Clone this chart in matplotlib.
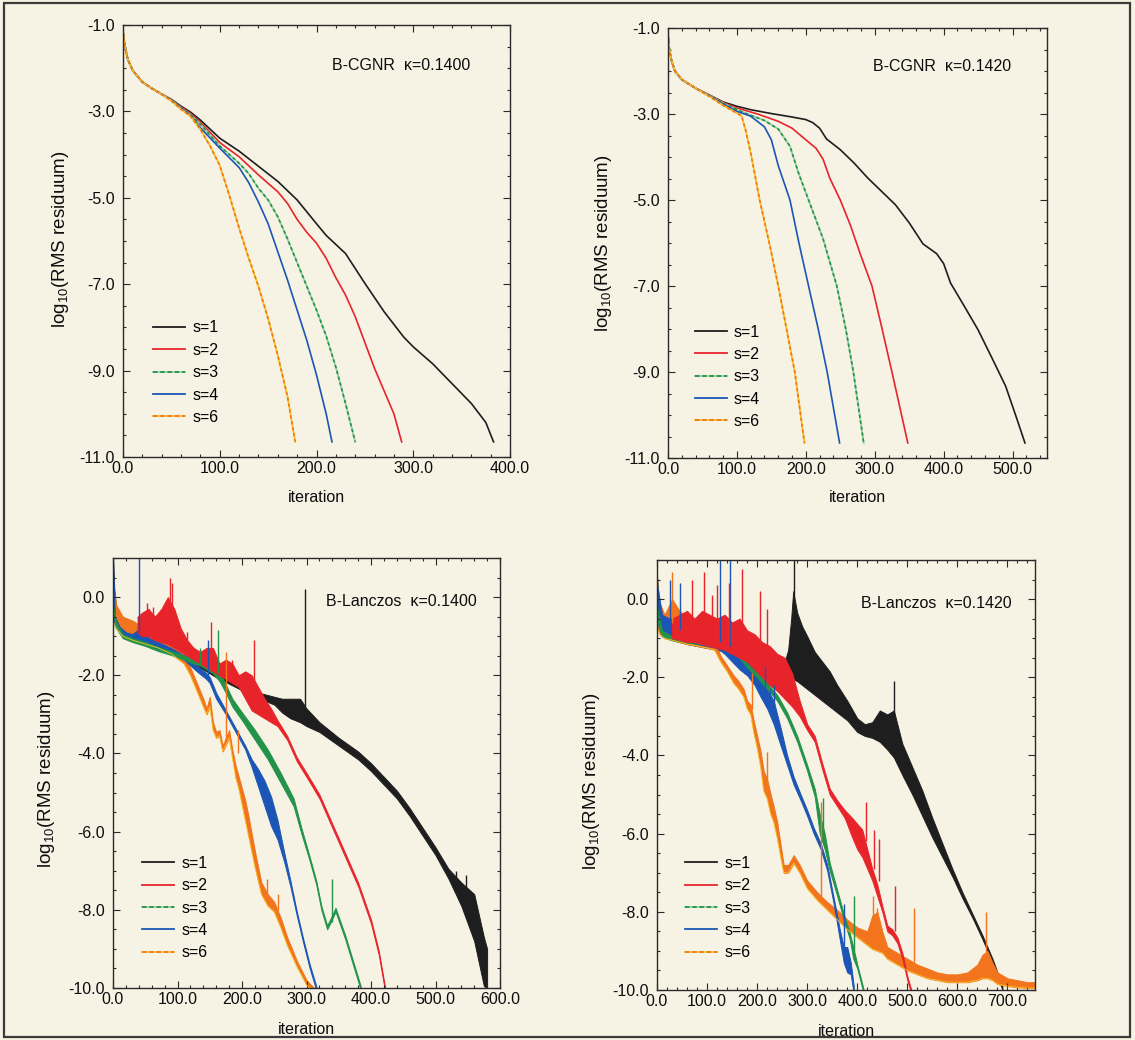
import matplotlib
matplotlib.use('Agg')
import matplotlib.pyplot as plt
from matplotlib.lines import Line2D
from matplotlib.patches import Rectangle
from matplotlib.ticker import MultipleLocator, FormatStrFormatter

plt.rcParams['font.family'] = ['Liberation Sans', 'DejaVu Sans']
plt.rcParams['mathtext.fontset'] = 'custom'
plt.rcParams['mathtext.rm'] = 'Liberation Sans'
plt.rcParams['mathtext.it'] = 'Liberation Sans:italic'
plt.rcParams['mathtext.bf'] = 'Liberation Sans:bold'

# ---------------- B-CGNR, kappa = 0.1400 ----------------
cg1400_it_s1 = [0, 2, 5, 10, 20, 30, 40, 50, 60, 70, 80, 100, 120, 140, 160, 180, 200, 210, 230, 250, 270, 290, 300, 320, 340, 360, 375, 383]
cg1400_r_s1 = [-1.15, -1.5, -1.8, -2.05, -2.32, -2.47, -2.6, -2.72, -2.88, -3.02, -3.2, -3.62, -3.92, -4.27, -4.62, -5.05, -5.6, -5.87, -6.29, -6.98, -7.64, -8.22, -8.45, -8.84, -9.3, -9.76, -10.2, -10.65]
cg1400_it_s2 = [0, 2, 5, 10, 20, 30, 40, 50, 60, 70, 80, 100, 120, 140, 160, 170, 180, 190, 200, 210, 220, 230, 240, 260, 280, 288]
cg1400_r_s2 = [-1.15, -1.5, -1.8, -2.05, -2.32, -2.47, -2.6, -2.73, -2.9, -3.05, -3.25, -3.72, -4.05, -4.47, -4.86, -5.13, -5.5, -5.8, -6.05, -6.4, -6.85, -7.25, -7.75, -8.95, -10.0, -10.65]
cg1400_it_s3 = [0, 2, 5, 10, 20, 30, 40, 50, 60, 70, 80, 100, 120, 130, 140, 150, 160, 170, 180, 190, 200, 210, 220, 230, 240]
cg1400_r_s3 = [-1.15, -1.5, -1.8, -2.05, -2.32, -2.47, -2.6, -2.74, -2.92, -3.08, -3.3, -3.8, -4.2, -4.44, -4.78, -5.05, -5.44, -5.95, -6.5, -7.05, -7.6, -8.2, -8.92, -9.76, -10.65]
cg1400_it_s4 = [0, 2, 5, 10, 20, 30, 40, 50, 60, 70, 80, 100, 120, 130, 140, 150, 160, 170, 180, 190, 200, 210, 216]
cg1400_r_s4 = [-1.15, -1.5, -1.8, -2.05, -2.32, -2.47, -2.6, -2.75, -2.93, -3.1, -3.38, -3.85, -4.3, -4.65, -5.1, -5.6, -6.25, -6.9, -7.6, -8.3, -9.1, -10.0, -10.65]
cg1400_it_s6 = [0, 2, 5, 10, 20, 30, 40, 50, 60, 70, 80, 90, 100, 110, 120, 130, 140, 150, 160, 170, 178]
cg1400_r_s6 = [-1.15, -1.5, -1.8, -2.05, -2.32, -2.47, -2.6, -2.76, -2.95, -3.12, -3.42, -3.8, -4.25, -4.95, -5.7, -6.4, -7.05, -7.8, -8.65, -9.6, -10.65]

# ---------------- B-CGNR, kappa = 0.1420 ----------------
cg1420_it_s1 = [0, 2, 5, 10, 20, 40, 60, 80, 100, 120, 150, 180, 200, 210, 220, 230, 250, 270, 290, 310, 330, 350, 370, 390, 400, 410, 430, 450, 470, 490, 505, 518]
cg1420_r_s1 = [-1.15, -1.5, -1.75, -2.0, -2.2, -2.4, -2.56, -2.72, -2.82, -2.9, -2.99, -3.07, -3.13, -3.2, -3.33, -3.58, -3.83, -4.14, -4.49, -4.8, -5.11, -5.53, -6.02, -6.25, -6.48, -6.93, -7.47, -8.02, -8.67, -9.33, -10.03, -10.65]
cg1420_it_s2 = [0, 2, 5, 10, 20, 40, 60, 80, 100, 130, 160, 180, 200, 215, 225, 235, 250, 265, 280, 296, 310, 325, 348]
cg1420_r_s2 = [-1.15, -1.5, -1.75, -2.0, -2.2, -2.4, -2.56, -2.73, -2.86, -3.0, -3.17, -3.33, -3.6, -3.8, -4.05, -4.5, -5.0, -5.6, -6.3, -7.0, -7.95, -9.0, -10.65]
cg1420_it_s3 = [0, 2, 5, 10, 20, 40, 60, 80, 100, 115, 140, 160, 177, 190, 204, 225, 245, 258, 269, 284]
cg1420_r_s3 = [-1.15, -1.5, -1.75, -2.0, -2.2, -2.4, -2.57, -2.75, -2.9, -3.0, -3.15, -3.35, -3.75, -4.4, -5.0, -5.9, -7.0, -8.0, -9.0, -10.65]
cg1420_it_s4 = [0, 2, 5, 10, 20, 40, 60, 80, 100, 120, 140, 150, 160, 177, 190, 204, 218, 231, 249]
cg1420_r_s4 = [-1.15, -1.5, -1.75, -2.0, -2.2, -2.4, -2.58, -2.77, -2.94, -3.05, -3.3, -3.6, -4.2, -5.0, -6.0, -7.0, -8.0, -9.0, -10.65]
cg1420_it_s6 = [0, 2, 5, 10, 20, 40, 60, 80, 100, 107, 113, 120, 133, 147, 160, 172, 184, 198]
cg1420_r_s6 = [-1.15, -1.5, -1.75, -2.0, -2.2, -2.4, -2.59, -2.8, -2.98, -3.05, -3.4, -3.9, -5.0, -6.0, -7.0, -8.0, -9.0, -10.65]

# ---------------- B-Lanczos, kappa = 0.1400 (band: lower / upper envelope) ----------------
lz1400_it_s1 = [0, 2, 5, 10, 20, 40, 70, 100, 130, 160, 190, 220, 250, 262, 275, 290, 300, 320, 350, 380, 400, 420, 440, 460, 480, 500, 520, 540, 560, 575, 580]
lz1400_hi_s1 = [1.0, 0.2, -0.3, -0.6, -0.85, -1.0, -1.2, -1.4, -1.65, -1.95, -2.2, -2.42, -2.55, -2.6, -2.6, -2.6, -2.85, -3.2, -3.6, -3.95, -4.25, -4.6, -4.95, -5.4, -5.9, -6.4, -6.95, -7.3, -7.6, -8.7, -9.0]
lz1400_lo_s1 = [-0.2, -0.5, -0.7, -0.85, -0.95, -1.1, -1.3, -1.5, -1.75, -2.05, -2.3, -2.55, -2.75, -2.95, -3.1, -3.2, -3.3, -3.45, -3.8, -4.15, -4.45, -4.8, -5.15, -5.6, -6.1, -6.6, -7.2, -7.9, -8.8, -9.95, -10.0]
lz1400_spikes_s1 = [(297, -2.8, 0.2), (532, -7.4, -7.0), (548, -7.7, -7.1)]

lz1400_it_s2 = [38, 45, 55, 65, 75, 85, 95, 105, 115, 125, 135, 145, 155, 165, 175, 185, 195, 205, 215, 225, 235, 245, 255, 270, 285, 300, 320, 340, 360, 380, 400, 412, 422]
lz1400_hi_s2 = [-0.5, -0.4, -0.3, -0.5, -0.3, 0.0, -0.3, -0.8, -1.1, -1.3, -1.4, -1.3, -1.3, -1.7, -1.6, -1.7, -2.0, -1.9, -2.0, -2.3, -2.6, -2.85, -3.15, -3.55, -4.1, -4.5, -5.05, -5.8, -6.55, -7.3, -8.25, -9.05, -10.0]
lz1400_lo_s2 = [-0.9, -1.0, -1.0, -1.1, -1.15, -1.2, -1.3, -1.4, -1.5, -1.6, -1.7, -1.8, -1.9, -2.0, -2.1, -2.2, -2.3, -2.6, -2.9, -3.0, -3.1, -3.2, -3.3, -3.65, -4.2, -4.6, -5.15, -5.9, -6.65, -7.4, -8.35, -9.15, -10.1]
lz1400_spikes_s2 = [(52, -0.9, -0.15), (62, -0.9, -0.25), (88, -0.8, 0.5), (92, -0.6, 0.35), (114, -1.2, -0.9), (152, -1.5, -0.64), (185, -1.9, -1.6), (218, -2.2, -1.1)]

lz1400_it_s3 = [0, 5, 15, 30, 50, 70, 90, 110, 125, 135, 145, 155, 165, 175, 185, 200, 220, 240, 260, 280, 292, 305, 315, 323, 332, 338, 345, 360, 384]
lz1400_hi_s3 = [-0.2, -0.65, -0.95, -1.05, -1.15, -1.28, -1.38, -1.5, -1.45, -1.4, -1.6, -1.6, -1.9, -2.25, -2.6, -2.95, -3.4, -3.9, -4.5, -5.15, -5.9, -6.65, -7.25, -7.9, -8.4, -8.2, -7.95, -8.65, -9.95]
lz1400_lo_s3 = [-0.4, -0.8, -1.05, -1.15, -1.25, -1.38, -1.48, -1.6, -1.7, -1.75, -1.85, -1.95, -2.15, -2.45, -2.8, -3.15, -3.65, -4.15, -4.75, -5.35, -6.05, -6.75, -7.35, -8.0, -8.5, -8.3, -8.05, -8.75, -10.05]
lz1400_spikes_s3 = [(135, -1.75, -1.3), (163, -1.95, -0.85), (339, -8.3, -7.2)]

lz1400_it_s4 = [0, 3, 10, 20, 30, 45, 55, 70, 90, 110, 130, 145, 150, 160, 175, 190, 205, 215, 225, 235, 245, 255, 265, 275, 285, 295, 305, 316]
lz1400_hi_s4 = [1.0, -0.5, -0.75, -0.9, -0.95, -0.75, -1.05, -1.15, -1.3, -1.5, -1.75, -1.95, -2.05, -2.45, -2.9, -3.35, -3.8, -4.15, -4.4, -4.7, -5.1, -5.7, -6.5, -7.25, -8.05, -8.75, -9.4, -10.0]
lz1400_lo_s4 = [-0.5, -0.75, -0.9, -1.02, -1.08, -1.15, -1.2, -1.3, -1.4, -1.6, -1.9, -2.1, -2.2, -2.6, -3.0, -3.45, -3.9, -4.35, -4.85, -5.35, -5.85, -6.2, -6.75, -7.4, -8.15, -8.85, -9.5, -10.1]
lz1400_spikes_s4 = [(40, -0.9, 1.1), (147, -2.0, -1.1)]

lz1400_it_s6 = [0, 5, 15, 30, 50, 70, 90, 110, 120, 130, 140, 145, 150, 155, 160, 165, 170, 180, 185, 190, 195, 200, 205, 210, 220, 230, 240, 250, 260, 270, 285, 300, 312]
lz1400_hi_s6 = [0.3, -0.2, -0.5, -0.6, -0.8, -0.9, -1.2, -1.5, -1.8, -2.2, -2.6, -2.85, -2.55, -3.2, -3.45, -3.4, -3.8, -3.4, -3.9, -4.3, -4.6, -4.9, -5.2, -5.6, -6.5, -7.3, -7.6, -7.8, -8.2, -8.7, -9.3, -9.8, -10.0]
lz1400_lo_s6 = [-0.6, -0.8, -1.0, -1.1, -1.2, -1.3, -1.45, -1.7, -2.0, -2.4, -2.8, -3.0, -2.8, -3.4, -3.6, -3.55, -3.95, -3.6, -4.1, -4.6, -4.9, -5.3, -5.7, -6.1, -6.9, -7.6, -7.9, -8.05, -8.45, -8.9, -9.45, -9.92, -10.1]
lz1400_spikes_s6 = [(175, -3.7, -1.4), (194, -4.0, -3.4), (238, -7.7, -7.2), (256, -8.0, -7.6)]

# ---------------- B-Lanczos, kappa = 0.1420 ----------------
lz1420_it_s1 = [0, 3, 10, 30, 60, 100, 140, 180, 220, 245, 255, 262, 268, 272, 280, 290, 300, 315, 330, 345, 360, 380, 400, 415, 430, 445, 460, 473, 490, 510, 530, 550, 570, 590, 610, 630, 650, 670, 690]
lz1420_hi_s1 = [0.6, 0.0, -0.5, -0.7, -0.9, -1.1, -1.2, -1.35, -1.5, -1.5, -1.6, -1.3, -0.5, 0.2, -0.35, -0.7, -0.95, -1.35, -1.6, -1.85, -2.2, -2.6, -3.05, -3.2, -3.15, -2.85, -2.95, -2.85, -3.7, -4.3, -4.9, -5.6, -6.25, -6.9, -7.5, -8.05, -8.6, -9.2, -9.9]
lz1420_lo_s1 = [-0.5, -0.8, -0.95, -1.05, -1.15, -1.25, -1.35, -1.5, -1.7, -1.8, -1.9, -1.95, -2.0, -2.05, -2.1, -2.2, -2.3, -2.45, -2.6, -2.75, -2.9, -3.1, -3.4, -3.5, -3.55, -3.65, -3.85, -4.05, -4.5, -5.0, -5.55, -6.1, -6.6, -7.1, -7.65, -8.15, -8.7, -9.3, -10.0]
lz1420_spikes_s1 = [(273, -1.5, 1.1), (473, -3.0, -2.1)]

lz1420_it_s2 = [30, 45, 60, 75, 90, 105, 120, 135, 150, 165, 180, 195, 210, 225, 240, 255, 270, 285, 300, 315, 330, 345, 360, 375, 390, 400, 410, 420, 430, 440, 450, 460, 470, 480, 490, 500, 508]
lz1420_hi_s2 = [-0.5, -0.4, -0.3, -0.5, -0.3, -0.4, -0.5, -0.4, -0.6, -0.5, -0.8, -0.9, -1.1, -1.2, -1.4, -1.5, -1.9, -2.6, -3.2, -3.5, -4.2, -4.85, -5.15, -5.4, -5.6, -5.75, -5.9, -6.4, -6.9, -7.3, -7.85, -8.35, -8.45, -8.65, -9.05, -9.65, -10.0]
lz1420_lo_s2 = [-1.0, -1.05, -1.1, -1.1, -1.15, -1.2, -1.25, -1.3, -1.4, -1.5, -1.6, -1.8, -2.0, -2.2, -2.35, -2.55, -2.75, -3.0, -3.35, -3.65, -4.35, -5.0, -5.3, -5.6, -6.1, -6.4, -6.6, -6.9, -7.2, -7.6, -8.0, -8.5, -8.6, -8.8, -9.2, -9.75, -10.1]
lz1420_spikes_s2 = [(70, -1.0, 0.5), (93, -1.0, 0.7), (110, -1.0, 0.1), (120, -1.0, 0.35), (143, -1.1, 0.4), (170, -1.2, 0.77), (205, -1.5, 0.2), (219, -1.8, -0.25), (417, -6.2, -5.2), (433, -6.9, -5.9), (443, -7.2, -6.15), (475, -8.5, -7.35)]

lz1420_it_s3 = [0, 10, 30, 60, 90, 120, 150, 165, 180, 200, 220, 240, 260, 280, 300, 315, 325, 335, 345, 360, 373, 385, 392, 400, 413]
lz1420_hi_s3 = [-0.2, -0.8, -0.95, -1.02, -1.05, -1.12, -1.22, -1.4, -1.65, -1.9, -2.15, -2.45, -2.9, -3.5, -4.25, -4.85, -5.5, -6.0, -6.75, -7.45, -8.05, -8.55, -8.9, -9.35, -10.0]
lz1420_lo_s3 = [-0.6, -0.95, -1.05, -1.12, -1.15, -1.22, -1.35, -1.5, -1.75, -2.0, -2.3, -2.6, -3.05, -3.65, -4.4, -5.05, -6.0, -6.4, -6.95, -7.6, -8.2, -8.7, -9.2, -9.45, -10.1]
lz1420_spikes_s3 = [(331, -6.0, -5.1), (393, -9.0, -7.6)]

lz1420_it_s4 = [0, 10, 25, 45, 60, 80, 100, 120, 135, 150, 165, 180, 195, 207, 220, 233, 247, 260, 273, 287, 300, 313, 327, 340, 353, 365, 373, 380, 387, 393]
lz1420_hi_s4 = [0.4, -0.4, -0.5, -0.5, -0.8, -0.9, -1.0, -0.9, -0.6, -0.9, -1.1, -1.3, -1.65, -2.0, -2.3, -2.6, -3.3, -4.0, -4.55, -5.0, -5.4, -5.85, -6.25, -6.8, -7.65, -8.45, -8.9, -8.9, -9.3, -9.9]
lz1420_lo_s4 = [-0.6, -0.8, -0.9, -1.0, -1.1, -1.15, -1.2, -1.25, -1.4, -1.6, -1.8, -1.95, -2.2, -2.5, -2.8, -3.2, -3.75, -4.25, -4.75, -5.15, -5.55, -6.0, -6.4, -6.95, -7.8, -8.7, -9.3, -9.55, -9.6, -10.1]
lz1420_spikes_s4 = [(25, -0.7, 0.5), (45, -0.8, 0.4), (126, -1.1, 1.1), (145, -1.2, 1.1), (215, -2.3, -1.7), (225, -2.9, -2.3), (233, -3.0, -2.2), (373, -9.0, -7.8)]

lz1420_it_s6 = [0, 5, 15, 30, 45, 60, 80, 100, 115, 127, 140, 153, 163, 173, 180, 187, 193, 200, 207, 213, 220, 227, 233, 240, 247, 253, 262, 273, 285, 300, 320, 340, 360, 380, 400, 420, 430, 440, 450, 460, 480, 500, 520, 540, 560, 580, 600, 620, 640, 650, 660, 670, 680, 700, 720, 740, 755]
lz1420_hi_s6 = [0.5, -0.1, -0.4, 0.0, -0.3, -0.5, -0.7, -0.9, -1.1, -1.45, -1.7, -1.95, -2.1, -2.3, -2.6, -2.7, -3.1, -3.5, -3.9, -4.4, -4.6, -5.0, -5.3, -5.7, -6.3, -6.8, -6.8, -6.55, -6.8, -7.2, -7.5, -7.75, -7.95, -8.2, -8.4, -8.5, -8.1, -8.0, -8.5, -8.9, -9.05, -9.2, -9.35, -9.45, -9.55, -9.6, -9.6, -9.55, -9.35, -9.1, -9.0, -9.3, -9.55, -9.7, -9.75, -9.8, -9.8]
lz1420_lo_s6 = [-0.7, -0.9, -1.0, -1.05, -1.1, -1.15, -1.2, -1.25, -1.3, -1.6, -1.85, -2.15, -2.3, -2.5, -2.8, -2.95, -3.4, -3.8, -4.3, -4.9, -5.1, -5.5, -5.7, -6.1, -6.6, -7.0, -7.0, -6.75, -7.0, -7.4, -7.7, -7.95, -8.2, -8.45, -8.65, -8.85, -8.95, -9.0, -9.05, -9.2, -9.35, -9.5, -9.6, -9.7, -9.75, -9.8, -9.8, -9.8, -9.75, -9.7, -9.7, -9.75, -9.85, -9.9, -9.93, -9.95, -9.95]
lz1420_spikes_s6 = [(30, -0.6, 0.7), (190, -2.8, -1.9), (220, -4.6, -3.9), (327, -7.6, -5.2), (432, -8.6, -7.6), (440, -8.7, -7.9), (513, -9.3, -7.9), (658, -9.1, -8.0)]

legend_labels = ['s=1', 's=2', 's=3', 's=4', 's=6']

paper = '#f6f2e4'
ink = '#2a2a2a'
c_s1 = '#1e1e1e'
c_s2 = '#e8242b'
c_s3 = '#23934a'
c_s3_lt = '#96d0a2'
c_s4 = '#1b56b6'
c_s6 = '#f2741d'
c_s6_lt = '#f7c424'
fs = 11.5

W, H = 1135, 1040
fig = plt.figure(figsize=(W / 100, H / 100), dpi=100, facecolor=paper)


def panel(left, top, right, bottom):
    ax = fig.add_axes([left / W, 1 - bottom / H, (right - left) / W, (bottom - top) / H])
    ax.set_facecolor('none')
    for sp in ax.spines.values():
        sp.set_color(ink)
        sp.set_linewidth(1.0)
    return ax


def style_axes(ax, xmax, yticks, ylim):
    ax.set_xlim(0, xmax)
    ax.set_ylim(*ylim)
    ax.xaxis.set_major_locator(MultipleLocator(100))
    ax.xaxis.set_minor_locator(MultipleLocator(20))
    ax.set_yticks(yticks)
    ax.yaxis.set_minor_locator(MultipleLocator(0.5))
    ax.xaxis.set_major_formatter(FormatStrFormatter('%.1f'))
    ax.yaxis.set_major_formatter(FormatStrFormatter('%.1f'))
    ax.tick_params(which='both', direction='in', top=True, right=True,
                   color=ink, width=0.8, labelsize=fs, labelcolor='#0d0d0d')
    ax.tick_params(which='major', length=5)
    ax.tick_params(which='minor', length=2.5)
    ax.tick_params(axis='y', pad=6)
    ax.tick_params(axis='x', pad=3)


def labels(ax, ylab_x, ylab_y, xlab_y, title, tx, ty):
    ax.set_ylabel(r'log$_{10}$(RMS residuum)', fontsize=13.5, color='#0d0d0d')
    ax.yaxis.set_label_coords(ylab_x, ylab_y)
    ax.set_xlabel('iteration', fontsize=fs, color='#0d0d0d')
    ax.xaxis.set_label_coords(0.5, xlab_y)
    ax.text(tx, ty, title, transform=ax.transAxes, fontsize=fs, color='#0d0d0d',
            ha='left', va='center')


def add_legend(ax, x0, y0):
    handles = [
        Line2D([], [], color=c_s1, lw=1.3),
        Line2D([], [], color=c_s2, lw=1.3),
        (Line2D([], [], color=c_s3_lt, lw=1.3),
         Line2D([], [], color=c_s3, lw=1.3, ls=(0, (2.5, 1.5)))),
        Line2D([], [], color=c_s4, lw=1.3),
        (Line2D([], [], color=c_s6_lt, lw=1.3),
         Line2D([], [], color=c_s6, lw=1.3, ls=(0, (2.5, 1.5)))),
    ]
    ax.legend(handles, legend_labels, loc='upper left', bbox_to_anchor=(x0, y0),
              frameon=False, borderpad=0, borderaxespad=0, handlelength=2.0,
              handletextpad=0.45, labelspacing=0.46, fontsize=fs)


def cgnr_curves(ax, curves):
    for it, r, color, light in curves:
        if light is None:
            ax.plot(it, r, color=color, lw=1.2)
        else:
            ax.plot(it, r, color=light, lw=1.3)
            ax.plot(it, r, color=color, lw=1.2, ls=(0, (2, 1.6)))


def lanczos_bands(ax, bands):
    # black underneath, red on top
    order = ('s1', 's6', 's4', 's3', 's2')
    for key in order:
        it, lo, hi, spikes, color = bands[key]
        ax.fill_between(it, lo, hi, color=color, ec=color, lw=0.7)
        if key == 's6':
            ax.plot(it, lo, color=c_s6_lt, lw=0.6)
    for key in order:
        it, lo, hi, spikes, color = bands[key]
        xs = [s[0] for s in spikes]
        y0 = [s[1] for s in spikes]
        y1 = [s[2] for s in spikes]
        ax.vlines(xs, y0, y1, color=color, lw=1.0)


# top left: B-CGNR kappa=0.1400
ax1 = panel(123, 25, 510, 457)
cgnr_curves(ax1, [
    (cg1400_it_s1, cg1400_r_s1, c_s1, None),
    (cg1400_it_s2, cg1400_r_s2, c_s2, None),
    (cg1400_it_s3, cg1400_r_s3, c_s3, c_s3_lt),
    (cg1400_it_s4, cg1400_r_s4, c_s4, None),
    (cg1400_it_s6, cg1400_r_s6, c_s6, c_s6_lt),
])
style_axes(ax1, 400, [-1, -3, -5, -7, -9, -11], (-11, -1))
labels(ax1, -0.135, 0.505, -0.076, 'B-CGNR  \u03ba=0.1400', 0.54, 0.907)
add_legend(ax1, 0.078, 0.316)

# top right: B-CGNR kappa=0.1420
ax2 = panel(668, 28, 1047, 458)
cgnr_curves(ax2, [
    (cg1420_it_s1, cg1420_r_s1, c_s1, None),
    (cg1420_it_s2, cg1420_r_s2, c_s2, None),
    (cg1420_it_s3, cg1420_r_s3, c_s3, c_s3_lt),
    (cg1420_it_s4, cg1420_r_s4, c_s4, None),
    (cg1420_it_s6, cg1420_r_s6, c_s6, c_s6_lt),
])
style_axes(ax2, 550, [-1, -3, -5, -7, -9, -11], (-11, -1))
labels(ax2, -0.143, 0.5, -0.074, 'B-CGNR  \u03ba=0.1420', 0.54, 0.91)
add_legend(ax2, 0.071, 0.31)

# bottom left: B-Lanczos kappa=0.1400
ax3 = panel(113, 558, 500, 988)
lanczos_bands(ax3, {
    's1': (lz1400_it_s1, lz1400_lo_s1, lz1400_hi_s1, lz1400_spikes_s1, c_s1),
    's2': (lz1400_it_s2, lz1400_lo_s2, lz1400_hi_s2, lz1400_spikes_s2, c_s2),
    's3': (lz1400_it_s3, lz1400_lo_s3, lz1400_hi_s3, lz1400_spikes_s3, c_s3),
    's4': (lz1400_it_s4, lz1400_lo_s4, lz1400_hi_s4, lz1400_spikes_s4, c_s4),
    's6': (lz1400_it_s6, lz1400_lo_s6, lz1400_hi_s6, lz1400_spikes_s6, c_s6),
})
style_axes(ax3, 600, [0, -2, -4, -6, -8, -10], (-10, 1.0))
labels(ax3, -0.145, 0.485, -0.079, 'B-Lanczos  \u03ba=0.1400', 0.55, 0.90)
add_legend(ax3, 0.075, 0.307)

# bottom right: B-Lanczos kappa=0.1420
ax4 = panel(657, 560, 1035, 990)
lanczos_bands(ax4, {
    's1': (lz1420_it_s1, lz1420_lo_s1, lz1420_hi_s1, lz1420_spikes_s1, c_s1),
    's2': (lz1420_it_s2, lz1420_lo_s2, lz1420_hi_s2, lz1420_spikes_s2, c_s2),
    's3': (lz1420_it_s3, lz1420_lo_s3, lz1420_hi_s3, lz1420_spikes_s3, c_s3),
    's4': (lz1420_it_s4, lz1420_lo_s4, lz1420_hi_s4, lz1420_spikes_s4, c_s4),
    's6': (lz1420_it_s6, lz1420_lo_s6, lz1420_hi_s6, lz1420_spikes_s6, c_s6),
})
style_axes(ax4, 755, [0, -2, -4, -6, -8, -10], (-10, 1.0))
labels(ax4, -0.146, 0.485, -0.079, 'B-Lanczos  \u03ba=0.1420', 0.54, 0.90)
add_legend(ax4, 0.074, 0.312)

# outer frame around the whole figure
fig.add_artist(Rectangle((3.5 / W, 3 / H), (1130 - 3.5) / W, (1037 - 3) / H,
                         transform=fig.transFigure, fill=False, ec='#3a3a3a', lw=1.6))

fig.savefig('out.png', dpi=100, facecolor=paper)
